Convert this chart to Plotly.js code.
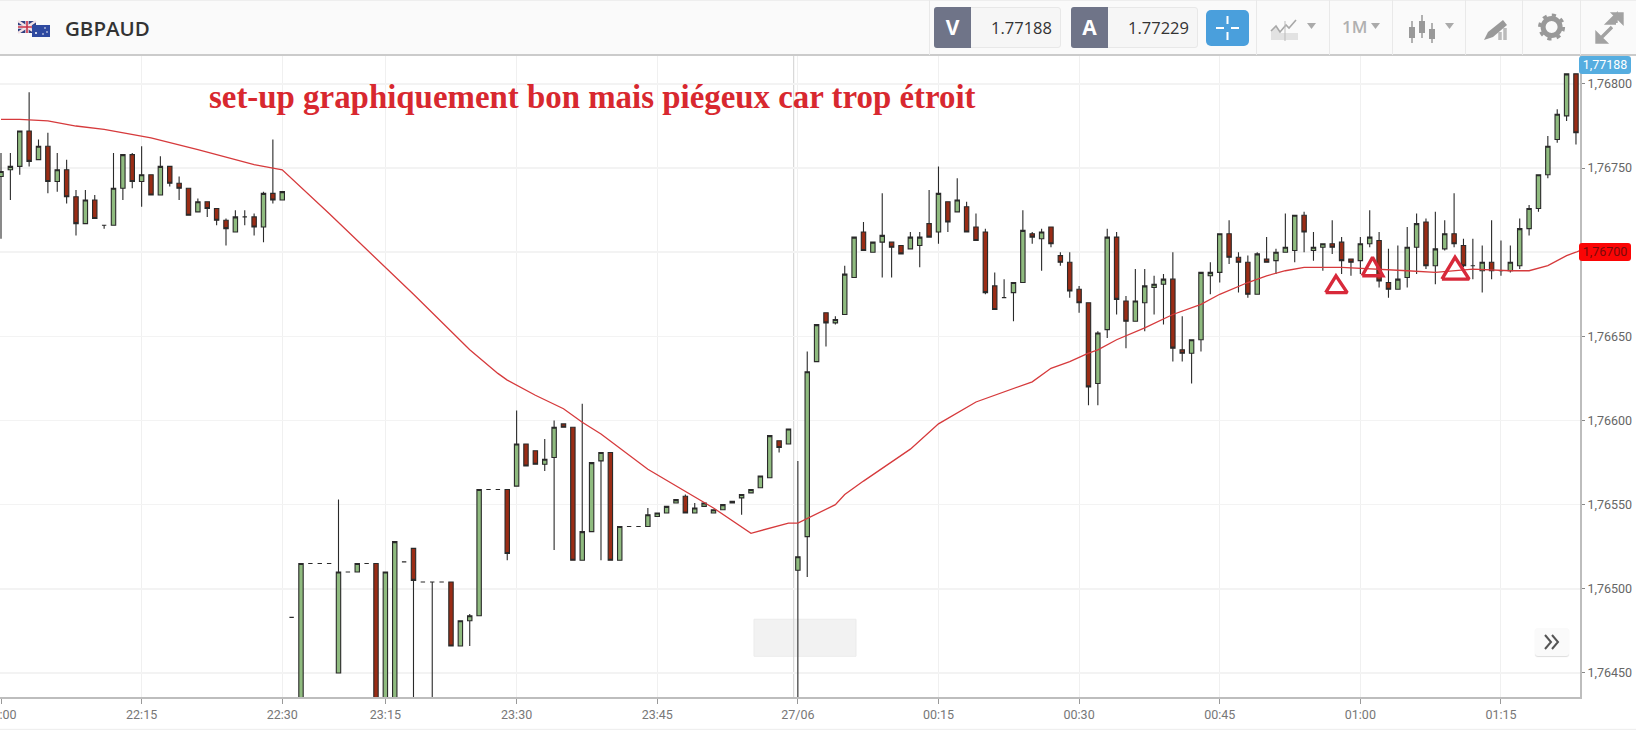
<!DOCTYPE html>
<html>
<head>
<meta charset="utf-8">
<script src="https://cdn.plot.ly/plotly-3.0.1.min.js"></script>
<style>
html,body{margin:0;padding:0;background:#fff;width:1636px;height:730px;overflow:hidden;font-family:"Open Sans",sans-serif}
#chart{position:absolute;left:0;top:0;width:1636px;height:730px}
.ab{position:absolute;box-sizing:border-box}
#bar{left:0;top:0;width:1636px;height:56px;background:#fafafa;border-bottom:2px solid #cbcbcb;border-top:1px solid #eee}
.sep{top:0;width:1px;height:55px;background:#e9e9e9}
.dark{top:7px;width:37px;height:41px;background:#6f7488;color:#fff;font-weight:700;font-size:21px;text-align:center;line-height:41px;border-radius:3px 0 0 3px}
.val{top:7px;width:127px;height:41px;background:#f6f6f6;border:1px solid #e8e8e8;border-radius:3px;color:#333;font-size:16.5px;line-height:40px;text-align:right;padding-right:8px}
.badge{left:1579px;width:52px;height:18px;border-radius:3px;font-family:Roboto,sans-serif;font-size:12.5px;line-height:18px;text-align:center}
</style>
</head>
<body>
<div id="chart"></div>
<div class="ab" id="bar"></div>
<svg class="ab" style="left:16px;top:18px" width="38" height="22" viewBox="0 0 38 22">
  <rect x="2" y="3" width="18" height="12" fill="#2f3f80"/>
  <path d="M2 3L20 15M20 3L2 15" stroke="#f3e3e6" stroke-width="2.4"/>
  <path d="M11 3V15M2 9H20" stroke="#f3e3e6" stroke-width="3.4"/>
  <path d="M11 3V15M2 9H20" stroke="#c9344a" stroke-width="1.6"/>
  <rect x="16" y="7" width="18" height="12" fill="#2f4aa0"/>
  <circle cx="20" cy="15" r="1" fill="#fff"/><circle cx="29" cy="10" r=".8" fill="#fff"/><circle cx="31" cy="14" r=".8" fill="#fff"/><circle cx="27" cy="16" r=".8" fill="#fff"/>
</svg>
<div class="ab" style="left:65px;top:12px;font-weight:600;font-size:20.5px;line-height:32px;color:#333">GBPAUD</div>
<div class="ab sep" style="left:929px"></div>
<div class="ab val" style="left:934px">1.77188</div>
<div class="ab dark" style="left:934px">V</div>
<div class="ab val" style="left:1071px">1.77229</div>
<div class="ab dark" style="left:1071px">A</div>
<div class="ab" style="left:1206px;top:10px;width:43px;height:36px;background:#4a9fdc;border-radius:5px"></div>
<svg class="ab" style="left:1206px;top:10px" width="43" height="36"><path d="M21.5 6V14M21.5 22V30M10 18H18M25 18H33" stroke="#fff" stroke-width="2"/></svg>
<div class="ab sep" style="left:1256px"></div><div class="ab sep" style="left:1329px"></div><div class="ab sep" style="left:1392px"></div><div class="ab sep" style="left:1465px"></div><div class="ab sep" style="left:1522px"></div><div class="ab sep" style="left:1580px"></div>
<svg class="ab" style="left:1256px;top:0" width="380" height="55">
  <path d="M15 40V31L20 26L25 33H42V40Z" fill="#e2e2e2"/>
  <path d="M15 31L20 26L24 32L30 25L33 28L40 20" stroke="#a8a8a8" stroke-width="1.6" fill="none"/>
  <path d="M29 21V41" stroke="#bbb" stroke-width="1"/>
  <path d="M51 23H60L55.5 29Z" fill="#aaa"/>
  <path d="M115 23H124L119.5 29Z" fill="#aaa"/>
  <path d="M189 23H198L193.5 29Z" fill="#aaa"/>
  <g transform="translate(5,0)">
  <g stroke="#999" stroke-width="1.5"><path d="M151 21V43M161 15V38M171 23V43"/></g>
  <g fill="#999"><rect x="148" y="27" width="6" height="11"/><rect x="158" y="21" width="6" height="12"/><rect x="168" y="29" width="6" height="10"/></g>
  </g>
  <path d="M228 40L232 32L247 20L251 25L237 37Z" fill="#999"/>
  <path d="M244 40V32M249 40V28" stroke="#bbb" stroke-width="3.5"/>
  <circle cx="295.6" cy="27" r="8.5" fill="none" stroke="#999" stroke-width="5"/>
  <circle cx="295.6" cy="27" r="12" fill="none" stroke="#999" stroke-width="3" stroke-dasharray="4.2 5.2"/>
  <path d="M343 40L356 27M360 23L352 23L360 15V23M341 34V42H349ZM358 14H366V22Z" stroke="#a2a2a2" stroke-width="3.4" fill="#a2a2a2"/>
</svg>
<div class="ab" style="left:1342px;top:15px;font-size:17px;font-weight:600;line-height:24px;color:#b0b0b0">1M</div>
<div class="ab badge" style="top:56px;background:#55ade0;color:#fff">1,77188</div>
<div class="ab badge" style="top:243px;background:#fb0505;color:#7a0a0a">1,76700</div>
<div class="ab" style="left:1535px;top:628px;width:34px;height:28px;background:#fafafa;border-radius:3px;box-shadow:0 1px 1px #ddd"></div>
<svg class="ab" style="left:1535px;top:628px" width="34" height="28"><path d="M10 7L16 14L10 21M17 7L23 14L17 21" stroke="#555" stroke-width="2" fill="none"/></svg>
<script>
const open=[1.76745,1.76749,1.76751,1.76772,1.76755,1.76763,1.76742,1.76749,1.76733,1.76717,1.76731,1.76716,1.76716,1.76738,1.76758,1.76742,1.76746,1.76734,1.76751,1.76741,1.76738,1.76724,1.76730,1.76726,1.76719,1.76712,1.76721,1.76721,1.76715,1.76735,1.76731,
1.76483,1.76420,1.76515,1.76515,1.76515,1.76450,1.76510,1.76510,1.76515,1.76515,1.76420,1.76420,1.76516,1.76524,1.76504,1.76504,1.76504,1.76504,1.76466,1.76481,1.76484,1.76559,1.76559,1.76559,1.76561,1.76586,1.76582,1.76574,1.76578,1.76598,1.76596,1.76517,1.76534,1.76576,1.76581,1.76517,1.76537,1.76537,
1.76537,1.76543,1.76545,1.76551,1.76555,1.76545,1.76549,1.76545,1.76547,1.76551,1.76554,1.76557,1.76560,1.76566,1.76588,1.76586,1.76511,1.76531,1.76635,1.76664,1.76658,1.76663,1.76685,1.76712,1.76700,1.76706,1.76706,1.76704,1.76702,1.76704,1.76717,
1.76712,1.76730,1.76724,1.76727,1.76715,1.76712,1.76680,1.76673,1.76676,1.76682,1.76711,1.76708,1.76715,1.76698,1.76694,1.76678,1.76670,1.76622,1.76654,1.76709,1.76671,1.76659,1.76670,1.76679,1.76681,1.76684,1.76642,1.76640,1.76648,1.76686,
1.76688,1.76711,1.76697,1.76694,1.76675,1.76696,1.76695,1.76700,1.76701,1.76722,1.76701,1.76703,1.76705,1.76706,1.76696,1.76695,1.76705,1.76707,1.76682,1.76678,1.76685,1.76703,1.76718,1.76692,1.76702,1.76711,1.76704,1.76692,1.76689,1.76694,
1.76689,1.76689,1.76692,1.76714,1.76726,1.76746,1.76767,1.76781,1.76806];
const high=[1.76759,1.76759,1.76772,1.76795,1.76767,1.76771,1.76759,1.76755,1.76737,1.76737,1.76734,1.76716,1.76759,1.76758,1.76759,1.76763,1.76746,1.76757,1.76751,1.76745,1.76738,1.76732,1.76730,1.76726,1.76720,1.76725,1.76725,1.76723,1.76736,1.76767,1.76736,
1.76483,1.76515,1.76515,1.76515,1.76515,1.76553,1.76510,1.76515,1.76515,1.76515,1.76510,1.76528,1.76516,1.76524,1.76504,1.76504,1.76504,1.76504,1.76481,1.76485,1.76559,1.76559,1.76559,1.76559,1.76606,1.76586,1.76582,1.76589,1.76600,1.76598,1.76596,1.76610,1.76575,1.76581,1.76581,1.76537,1.76537,1.76537,
1.76548,1.76545,1.76549,1.76553,1.76556,1.76551,1.76551,1.76547,1.76550,1.76552,1.76556,1.76559,1.76567,1.76591,1.76588,1.76595,1.76576,1.76641,1.76657,1.76664,1.76662,1.76692,1.76709,1.76718,1.76706,1.76735,1.76706,1.76704,1.76712,1.76712,1.76737,
1.76751,1.76730,1.76744,1.76730,1.76723,1.76714,1.76688,1.76684,1.76682,1.76725,1.76712,1.76714,1.76715,1.76700,1.76700,1.76680,1.76670,1.76653,1.76714,1.76712,1.76674,1.76690,1.76690,1.76686,1.76687,1.76700,1.76662,1.76648,1.76688,1.76694,
1.76711,1.76719,1.76700,1.76698,1.76700,1.76709,1.76702,1.76723,1.76722,1.76724,1.76712,1.76705,1.76719,1.76709,1.76696,1.76709,1.76725,1.76712,1.76702,1.76704,1.76715,1.76723,1.76720,1.76724,1.76719,1.76735,1.76708,1.76708,1.76704,1.76719,
1.76707,1.76704,1.76720,1.76728,1.76746,1.76769,1.76785,1.76806,1.76806];
const low=[1.76708,1.76731,1.76746,1.76751,1.76755,1.76735,1.76736,1.76729,1.76710,1.76717,1.76720,1.76714,1.76716,1.76731,1.76738,1.76727,1.76734,1.76734,1.76739,1.76731,1.76722,1.76724,1.76721,1.76716,1.76704,1.76712,1.76716,1.76710,1.76706,1.76729,1.76731,
1.76483,1.76420,1.76515,1.76515,1.76515,1.76450,1.76510,1.76510,1.76515,1.76420,1.76420,1.76420,1.76516,1.76420,1.76504,1.76420,1.76504,1.76466,1.76466,1.76466,1.76484,1.76559,1.76559,1.76517,1.76561,1.76573,1.76574,1.76570,1.76523,1.76596,1.76517,1.76517,1.76534,1.76517,1.76517,1.76517,1.76537,1.76537,
1.76537,1.76543,1.76545,1.76551,1.76545,1.76545,1.76549,1.76545,1.76547,1.76551,1.76544,1.76557,1.76560,1.76566,1.76581,1.76586,1.76420,1.76507,1.76635,1.76644,1.76657,1.76663,1.76685,1.76701,1.76700,1.76685,1.76685,1.76699,1.76702,1.76691,1.76709,
1.76705,1.76712,1.76724,1.76712,1.76707,1.76675,1.76666,1.76673,1.76659,1.76682,1.76705,1.76689,1.76703,1.76692,1.76673,1.76664,1.76609,1.76609,1.76649,1.76663,1.76643,1.76659,1.76653,1.76663,1.76657,1.76635,1.76635,1.76622,1.76641,1.76675,
1.76682,1.76693,1.76676,1.76673,1.76675,1.76694,1.76687,1.76700,1.76694,1.76700,1.76695,1.76689,1.76699,1.76687,1.76686,1.76687,1.76703,1.76679,1.76673,1.76678,1.76679,1.76687,1.76690,1.76681,1.76701,1.76703,1.76691,1.76684,1.76676,1.76684,
1.76686,1.76688,1.76690,1.76710,1.76724,1.76744,1.76765,1.76778,1.76764];
const close=[1.76748,1.76751,1.76772,1.76754,1.76763,1.76742,1.76749,1.76733,1.76717,1.76731,1.76720,1.76716,1.76738,1.76758,1.76742,1.76746,1.76734,1.76751,1.76741,1.76738,1.76722,1.76730,1.76726,1.76719,1.76714,1.76721,1.76721,1.76715,1.76735,1.76731,1.76736,
1.76483,1.76515,1.76515,1.76515,1.76515,1.76510,1.76510,1.76515,1.76515,1.76420,1.76510,1.76528,1.76516,1.76505,1.76504,1.76504,1.76504,1.76466,1.76481,1.76484,1.76559,1.76559,1.76559,1.76521,1.76586,1.76573,1.76574,1.76577,1.76596,1.76596,1.76517,1.76534,1.76575,1.76581,1.76517,1.76537,1.76537,1.76537,
1.76544,1.76545,1.76549,1.76553,1.76545,1.76548,1.76551,1.76547,1.76550,1.76552,1.76556,1.76559,1.76567,1.76591,1.76584,1.76595,1.76519,1.76629,1.76657,1.76658,1.76660,1.76687,1.76709,1.76701,1.76706,1.76710,1.76703,1.76699,1.76709,1.76709,1.76709,
1.76735,1.76718,1.76731,1.76712,1.76707,1.76676,1.76666,1.76673,1.76682,1.76713,1.76709,1.76712,1.76705,1.76694,1.76677,1.76670,1.76620,1.76652,1.76709,1.76672,1.76659,1.76671,1.76680,1.76681,1.76684,1.76643,1.76640,1.76648,1.76688,1.76688,
1.76711,1.76697,1.76694,1.76675,1.76699,1.76694,1.76700,1.76703,1.76722,1.76712,1.76703,1.76705,1.76703,1.76695,1.76694,1.76705,1.76709,1.76683,1.76678,1.76684,1.76703,1.76717,1.76692,1.76702,1.76711,1.76705,1.76692,1.76692,1.76694,1.76689,
1.76689,1.76694,1.76714,1.76726,1.76746,1.76763,1.76782,1.76806,1.76771];
const maIndex=[0,2,5,8,11,13,16,21,27,29,30,35,38,41,44,50,53,54,57,60,62,64,68,69,76,80,84,85,89,90,92,97,100,104,110,112,114,116,117,119,122,125,128,130,133,135,137,139,143,147,150,153,157,161,163,165,167,168,168.4];
const maValue=[1.76779,1.76779,1.76778,1.76775,1.76773,1.76771,1.76768,1.76761,1.76752,1.76750,1.76749,1.76723,1.76707,1.76691,1.76675,1.76642,1.76628,1.76624,1.76615,1.76607,1.76599,1.76592,1.76575,1.76571,1.76548,1.76533,1.76539,1.76539,1.76550,1.76556,1.76564,1.76583,1.76598,1.76611,1.76623,1.76631,1.76635,1.76640,1.76642,1.76648,1.76655,1.76663,1.76669,1.76675,1.76682,1.76686,1.76689,1.76691,1.76691,1.76690,1.76689,1.76688,1.76690,1.76689,1.76689,1.76692,1.76698,1.76700,1.76701];
const triangleIndex=[141.3,142.4,143.6,141.3,null,145.2,146.3,147.4,145.2,null,153.7,155.1,156.6,153.7];
const triangleValue=[1.76676,1.76686,1.76676,1.76676,null,1.76686,1.76697,1.76686,1.76686,null,1.76684,1.76697,1.76684,1.76684];
const xTickIndex=[0,15,30,41,55,70,85,100,115,130,145,160];
const xTickText=["22:00","22:15","22:30","23:15","23:30","23:45","27/06","00:15","00:30","00:45","01:00","01:15"];
const yTickVals=[1.768,1.7675,1.767,1.7665,1.766,1.7655,1.765,1.7645];
const yTickText=["1,76800","1,76750","","1,76650","1,76600","1,76550","1,76500","1,76450"];
const barIndex=open.map((_,i)=>i);

const W=1580,H=641.7;
const xp=p=>p/W, yp=p=>(696.7-p)/H;

Plotly.newPlot('chart',[
 {type:'candlestick',x:barIndex,open:open,high:high,low:low,close:close,
  increasing:{fillcolor:'#8fbb7f',line:{color:'#2a2a2a',width:1.1}},
  decreasing:{fillcolor:'#9a2c15',line:{color:'#2a2a2a',width:1.1}},
  whiskerwidth:0,hoverinfo:'skip',showlegend:false},
 {type:'scatter',mode:'lines',x:maIndex,y:maValue,line:{color:'#d63a3c',width:1.3},hoverinfo:'skip',showlegend:false},
 {type:'scatter',mode:'lines',x:triangleIndex,y:triangleValue,connectgaps:false,
  line:{color:'#d8293a',width:3.4},hoverinfo:'skip',showlegend:false}
],{
 width:1636,height:730,paper_bgcolor:'#fff',plot_bgcolor:'#fff',
 margin:{l:0,r:56,t:55,b:33.3,pad:0},showlegend:false,hovermode:false,boxgap:0.33,
 xaxis:{type:'linear',range:[-0.107,168.43],rangeslider:{visible:false},
  tickmode:'array',tickvals:xTickIndex,ticktext:xTickText,ticklabeloverflow:'allow',
  ticks:'outside',ticklen:5,tickcolor:'#999',tickfont:{family:'Roboto',size:12.5,color:'#777'},
  showgrid:true,gridcolor:'#f0f0f0',gridwidth:1,zeroline:false,showline:true,linecolor:'#bdbdbd',linewidth:2},
 yaxis:{side:'right',range:[1.764357,1.768172],autorange:false,
  tickmode:'array',tickvals:yTickVals,ticktext:yTickText,
  ticks:'outside',ticklen:3,tickcolor:'#888',tickfont:{family:'Roboto',size:12.5,color:'#666'},
  showgrid:true,gridcolor:'#f3f3f3',gridwidth:1.5,zeroline:false,showline:true,linecolor:'#bdbdbd',linewidth:2},
 shapes:[
  {type:'rect',xref:'paper',yref:'paper',layer:'below',x0:xp(754),x1:xp(856),y0:yp(619),y1:yp(656),fillcolor:'#f2f2f2',line:{color:'#ebebeb',width:1}},
  {type:'line',xref:'paper',yref:'paper',layer:'below',x0:xp(793.7),x1:xp(793.7),y0:0,y1:1,line:{color:'#d0d0d0',width:1}},
  {type:'line',xref:'paper',yref:'paper',layer:'below',x0:0,x1:1.04,y0:yp(729),y1:yp(729),line:{color:'#ececec',width:1}}
 ],
 annotations:[
  {text:'set-up graphiquement bon mais piégeux car trop étroit',xref:'paper',yref:'paper',x:xp(207),y:yp(97),xanchor:'left',yanchor:'middle',showarrow:false,
   font:{family:'Liberation Serif',size:32.9,color:'#d8282f',weight:700}}
 ]
},{staticPlot:true,displayModeBar:false});
</script>
</body>
</html>
